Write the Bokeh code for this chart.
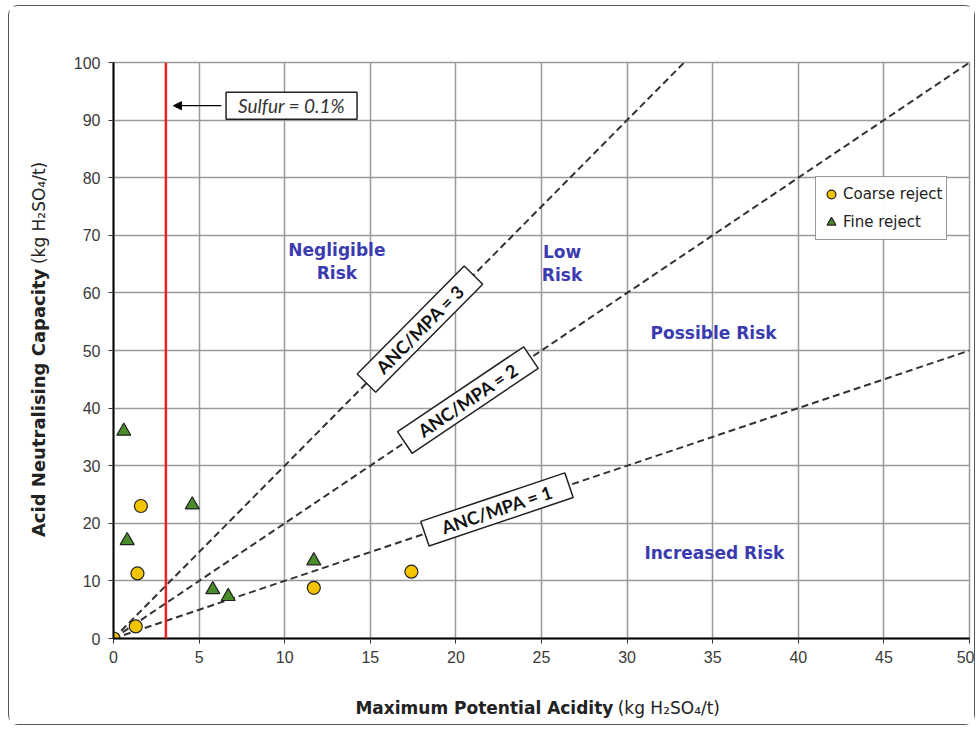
import math
from bokeh.plotting import figure
from bokeh.models import Label, Arrow, NormalHead, Span, Legend, LegendItem, Range1d, ColumnDataSource
from bokeh.core.properties import value
from bokeh.embed import file_html
from bokeh.resources import INLINE

# ---- data ----
coarse_mpa = [0.0, 1.3, 1.4, 1.6, 11.7, 17.4]
coarse_anc = [0.0, 2.1, 11.3, 23.0, 8.8, 11.6]
fine_mpa = [0.6, 0.8, 4.6, 5.8, 6.7, 11.7]
fine_anc = [36.0, 17.0, 23.2, 8.5, 7.3, 13.5]
ratios = [1, 2, 3]
ratio_labels = ["ANC/MPA = 1", "ANC/MPA = 2", "ANC/MPA = 3"]
ratio_label_x = [22.4, 20.7, 17.9]
sulfur_mpa = 3.06
sulfur_text = "Sulfur = 0.1%"
zones = ["Negligible\nRisk", "Low\nRisk", "Possible Risk", "Increased Risk"]
zone_x = [13.05, 26.2, 35.05, 35.1]
zone_y = [65.5, 65.1, 53.1, 14.9]
x_ticks = list(range(0, 51, 5))
y_ticks = list(range(0, 101, 10))
x_title = ["Maximum Potential Acidity", "(kg H\u2082SO\u2084/t)"]
y_title = ["Acid Neutralising Capacity", "(kg H\u2082SO\u2084/t)"]
x_min, x_max, y_min, y_max = 0, 50, 0, 100

FONT = "Liberation Sans"
WIDE = "DejaVu Sans"
FRAME_W, FRAME_H = 856, 576

p = figure(width=967, height=720, x_range=Range1d(x_min, x_max), y_range=Range1d(y_min, y_max),
           output_backend="svg", toolbar_location=None,
           min_border_left=104, min_border_right=7, min_border_top=56, min_border_bottom=88)
p.margin = (5, 4, 6, 8)
p.styles = {"border": "1.5px solid #555", "border-radius": "10px"}
p.background_fill_color = "white"
p.border_fill_color = "white"
p.outline_line_color = "#9a9a9a"
p.outline_line_width = 1.5

for ax, ticks in ((p.xaxis, x_ticks), (p.yaxis, y_ticks)):
    ax.ticker = ticks
    ax.axis_line_color = "black"
    ax.axis_line_width = 2
    ax.major_tick_line_color = "#333"
    ax.major_tick_in = 0
    ax.major_tick_out = 5
    ax.minor_tick_line_color = None
    ax.major_label_text_font = FONT
    ax.major_label_text_font_size = "16px"
    ax.major_label_text_color = "#3a3a3a"
p.xaxis.major_label_standoff = 7
p.yaxis.major_label_standoff = 8

p.xgrid.ticker = x_ticks
p.ygrid.ticker = y_ticks
p.grid.grid_line_color = "#9a9a9a"
p.grid.grid_line_width = 1.5

# ratio lines
ppx = FRAME_W / (x_max - x_min)
ppy = FRAME_H / (y_max - y_min)
for r, lab, lx in zip(ratios, ratio_labels, ratio_label_x):
    xe = min(x_max, y_max / r)
    p.line([0, xe], [0, r * xe], line_color="#333", line_width=2, line_dash="7 4")
    ang = math.atan(r * ppy / ppx)
    p.add_layout(Label(x=lx, y=r * lx, text=lab, angle=ang, angle_units="rad",
                       text_align="center", text_baseline="middle",
                       text_font="Lato", text_font_style="bold", text_font_size="18px",
                       text_color="#111", background_fill_color="white",
                       border_line_color="#222", border_line_width=1.5,
                       padding=dict(left=18, right=18, top=2, bottom=2)))

# sulfur line
p.add_layout(Span(location=sulfur_mpa, dimension="height", line_color="#ee2222", line_width=2.5))
p.add_layout(Label(x=10.4, y=92.5, text=sulfur_text, text_align="center", text_baseline="middle",
                   text_font="Lato", text_font_style="italic", text_font_size="19px",
                   text_color="#333", background_fill_color="white",
                   border_line_color="#222", border_line_width=1.5,
                   padding=dict(left=12, right=12, top=2, bottom=2)))
p.add_layout(Arrow(end=NormalHead(size=8, fill_color="black", line_color="black"),
                   x_start=6.3, y_start=92.5, x_end=3.5, y_end=92.5,
                   line_color="black", line_width=1.2))

# zone texts
src = ColumnDataSource(dict(x=zone_x, y=zone_y, t=zones))
p.text(x="x", y="y", text="t", source=src, text_align="center", text_baseline="middle",
       text_font=value(WIDE), text_font_style="bold", text_font_size="17px",
       text_color="#3b3bb0", text_line_height=1.15)

# data
rc = p.scatter(coarse_mpa, coarse_anc, marker="circle", size=13, fill_color="#f5c400",
               line_color="#222", line_width=1.2)
rf = p.scatter(fine_mpa, fine_anc, marker="triangle", size=14, fill_color="#4a8c2a",
               line_color="#222", line_width=1.2)

legend = Legend(items=[LegendItem(label="Coarse reject", renderers=[rc]),
                       LegendItem(label="Fine reject", renderers=[rf])],
                location=(702, 398), border_line_color="#333", border_line_width=1.2,
                label_text_font=WIDE, label_text_font_size="15px", label_text_color="#222",
                glyph_width=22, glyph_height=26, label_standoff=1, padding=4, spacing=2,
                margin=0, background_fill_color="white")
p.add_layout(legend, "center")

# axis titles (mixed weight), placed in the side panels
p.add_layout(Label(x=29.2, y=-12.0, text=x_title[0], text_align="right",
                   text_baseline="middle", text_font=WIDE, text_font_style="bold",
                   text_font_size="17px", text_color="#222"), "below")
p.add_layout(Label(x=29.45, y=-12.0, text=x_title[1], text_align="left",
                   text_baseline="middle", text_font=WIDE, text_font_size="17px",
                   text_color="#222"), "below")
p.add_layout(Label(x=-4.38, y=64.2, text=y_title[0], angle=math.pi / 2,
                   text_align="right", text_baseline="middle", text_font=WIDE,
                   text_font_style="bold", text_font_size="18px", text_color="#222"), "left")
p.add_layout(Label(x=-4.38, y=65.0, text=y_title[1], angle=math.pi / 2,
                   text_align="left", text_baseline="middle", text_font=WIDE,
                   text_font_size="17px", text_color="#222"), "left")

open("out.html", "w").write(file_html(p, INLINE))
